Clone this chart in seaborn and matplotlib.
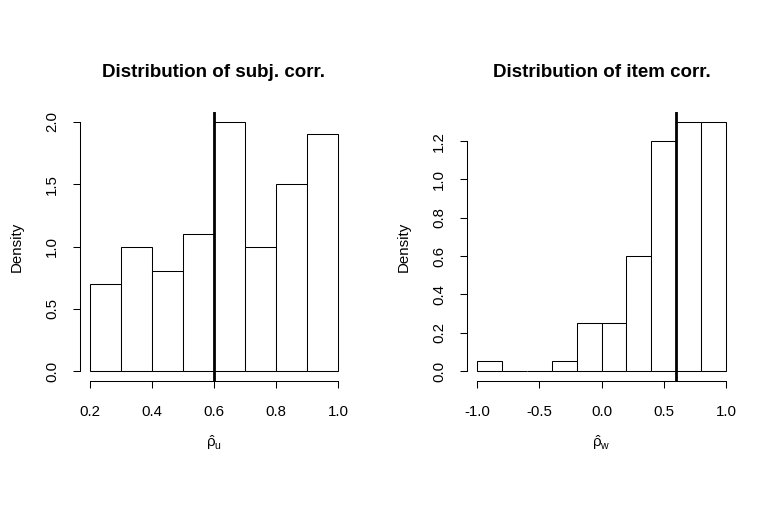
import numpy as np
import pandas as pd
import matplotlib
matplotlib.use("Agg")
import matplotlib.pyplot as plt
import seaborn as sns

# ---- data ----
subj_edges = [0.2, 0.3, 0.4, 0.5, 0.6, 0.7, 0.8, 0.9, 1.0]
subj_density = [0.7, 1.0, 0.8, 1.1, 2.0, 1.0, 1.5, 1.9]
item_edges = [-1.0, -0.8, -0.6, -0.4, -0.2, 0.0, 0.2, 0.4, 0.6, 0.8, 1.0]
item_density = [0.05, 0.0, 0.0, 0.05, 0.25, 0.25, 0.6, 1.2, 1.3, 1.3]
subj_line = 0.6
item_line = 0.6
titles = ["Distribution of subj. corr.", "Distribution of item corr."]
xlabels = [r"$\hat{\mathrm{\rho}}_{\mathrm{u}}$", r"$\hat{\mathrm{\rho}}_{\mathrm{w}}$"]
subj_xticks = [0.2, 0.4, 0.6, 0.8, 1.0]
subj_yticks = [0.0, 0.5, 1.0, 1.5, 2.0]
item_xticks = [-1.0, -0.5, 0.0, 0.5, 1.0]
item_yticks = [0.0, 0.2, 0.4, 0.6, 0.8, 1.0, 1.2]

sns.set_style("white")
plt.rcParams["font.family"] = ["Liberation Sans", "DejaVu Sans"]
plt.rcParams["mathtext.fontset"] = "custom"
plt.rcParams["mathtext.rm"] = "Liberation Sans"
plt.rcParams["mathtext.it"] = "Liberation Sans:italic"
plt.rcParams["text.color"] = "black"
plt.rcParams["axes.labelcolor"] = "black"
plt.rcParams["xtick.color"] = "black"
plt.rcParams["ytick.color"] = "black"

W, H = 777, 513
DPI = 100
fig = plt.figure(figsize=(W / DPI, H / DPI), dpi=DPI)

def px_axes(x0, y0, x1, y1):
    return fig.add_axes([x0 / W, 1 - y1 / H, (x1 - x0) / W, (y1 - y0) / H])

panels = [
    (px_axes(80, 112, 348, 381), subj_edges, subj_density, subj_line, subj_xticks, subj_yticks),
    (px_axes(467, 112, 736, 381), item_edges, item_density, item_line, item_xticks, item_yticks),
]

tick_len = 7 * 72 / DPI
lw = 0.75
fs = 10.8
for i, (ax, edges, dens, vline, xt, yt) in enumerate(panels):
    centers = [(a + b) / 2 for a, b in zip(edges[:-1], edges[1:])]
    df = pd.DataFrame({"x": centers, "w": dens})
    sns.histplot(data=df, x="x", weights="w", bins=list(edges), stat="count",
                 color="white", edgecolor="black", linewidth=lw, alpha=1,
                 ax=ax)
    ax.axvline(vline, color="black", linewidth=2.0)
    xr = edges[-1] - edges[0]
    ymax = max(dens)
    ax.set_xlim(edges[0] - 0.04 * xr, edges[-1] + 0.04 * xr)
    ax.set_ylim(-0.04 * ymax, ymax * 1.04)
    for s in ["top", "right"]:
        ax.spines[s].set_visible(False)
    ax.spines["left"].set_bounds(yt[0], yt[-1])
    ax.spines["bottom"].set_bounds(xt[0], xt[-1])
    for s in ["left", "bottom"]:
        ax.spines[s].set_linewidth(lw)
        ax.spines[s].set_color("black")
    ax.set_xticks(xt)
    ax.set_yticks(yt)
    ax.set_xticklabels([f"{v:.1f}" for v in xt])
    ax.set_yticklabels([f"{v:.1f}" for v in yt], rotation=90, va="center")
    ax.tick_params(axis="both", which="major", direction="out", length=tick_len,
                   width=lw, color="black", labelsize=fs, labelcolor="black",
                   left=True, bottom=True)
    ax.tick_params(axis="x", pad=12.5)
    ax.tick_params(axis="y", pad=10)
    ax.set_title(titles[i], fontsize=13.5, fontweight="bold", pad=25, color="black")
    ax.set_xlabel(xlabels[i], fontsize=fs)
    ax.set_ylabel("Density", fontsize=fs)
    axw = 268 if i == 0 else 269
    ax.yaxis.set_label_coords(-56 / axw, 0.5)
    ax.xaxis.set_label_coords(0.5, -52 / 269)
    ax.grid(False)

fig.savefig("out.png", dpi=DPI)
